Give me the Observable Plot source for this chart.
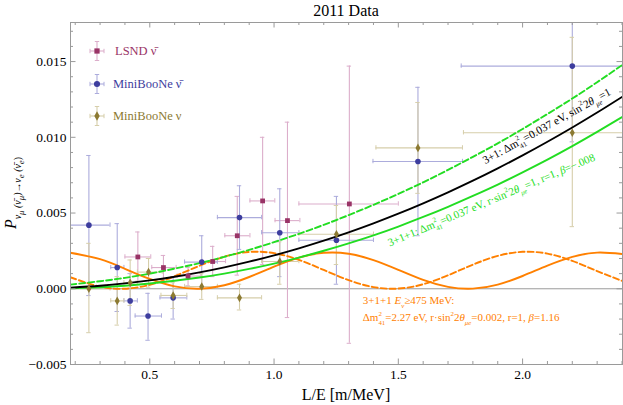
<!DOCTYPE html>
<html><head><meta charset="utf-8">
<script src="https://cdn.jsdelivr.net/npm/d3@7"></script>
<script src="https://cdn.jsdelivr.net/npm/@observablehq/plot@0.6"></script>
<style>html,body{margin:0;padding:0;background:#fff} svg{display:block}</style>
</head><body><div id="chart"></div>
<script>
// ---- curves ----
const LE = [0.18,0.3,0.4,0.5,0.6,0.7,0.8,0.9,1.0,1.1,1.2,1.3,1.4,1.5,1.6,1.7,1.8,1.9,2.0,2.1,2.2,2.3,2.4];
const p31 = [0.0000715,0.000199,0.000353,0.000552,0.000795,0.001082,0.001413,0.001788,0.002206,0.002669,0.003176,0.003727,0.004322,0.00496,0.005642,0.006368,0.007137,0.00795,0.008806,0.009706,0.010649,0.011635,0.012665];
const p311Dashed = [0.00027,0.0005,0.00072,0.0010,0.00133,0.00169,0.00211,0.00257,0.00308,0.00363,0.00422,0.00486,0.00554,0.00626,0.00703,0.00785,0.00871,0.0096,0.01055,0.01154,0.01256,0.01364,0.01476];
const p311Solid = [0.00003,0.0001,0.0002,0.00035,0.00053,0.00074,0.001,0.00131,0.00166,0.00206,0.00251,0.003,0.00353,0.00411,0.00474,0.00541,0.00613,0.00688,0.00769,0.00853,0.00942,0.01036,0.01133];
const pOrangeSolid = [0.002375,0.001954,0.001321,0.00065,0.000158,0.000002,0.000233,0.000777,0.001457,0.002054,0.002375,0.002316,0.001896,0.001253,0.000587,0.000125,0.000008,0.000275,0.000843,0.001523,0.002101,0.002387,0.002291];
const pOrangeDashed = [0.00076,0.000144,0.0000046,0.00026,0.00083,0.00152,0.00212,0.00243,0.00235,0.00191,0.00124,0.00057,0.00011,0.0000126,0.0003,0.00089,0.00159,0.00217,0.00244,0.00232,0.00184,0.00117,0.00052];

// ---- LSND antineutrino ----
const lsndLE   = [0.452,0.555,0.654,0.753,0.852,0.954,1.054,1.303];
const lsndLElo = [0.400,0.508,0.610,0.712,0.802,0.903,1.004,1.100];
const lsndLEhi = [0.504,0.606,0.705,0.805,0.903,1.003,1.104,1.500];
const lsndP    = [0.0021,0.0014,0.00084,0.0018,0.0035,0.0058,0.0045,0.0056];
const lsndPlo  = [0.0005,0.0006,0.0002,0.0008,0.0009,0.0016,-0.0019,-0.0036];
const lsndPhi  = [0.00375,0.0022,0.0014,0.0028,0.0061,0.0100,0.0110,0.0147];

// ---- MiniBooNE antineutrino ----
const mbbLE   = [0.255,0.369,0.421,0.493,0.594,0.709,0.861,1.023,1.251,1.579,2.200];
const mbbLElo = [0.180,0.343,0.396,0.441,0.541,0.640,0.772,0.950,1.100,1.398,1.753];
const mbbLEhi = [0.340,0.396,0.450,0.547,0.649,0.772,0.950,1.100,1.400,1.758,2.450];
const mbbP    = [0.0042,0.0014,-0.0008,-0.0018,-0.0006,0.00176,0.0047,0.0037,0.0032,0.0084,0.0147];
const mbbPlo  = [-0.00045,-0.0015,-0.0026,-0.0034,-0.0020,0.0001,0.0026,0.0008,0.0003,0.0035,0.0097];
const mbbPhi  = [0.0088,0.0043,0.0010,-0.0003,0.0008,0.0035,0.0068,0.0066,0.0061,0.0133,0.0197];

// ---- MiniBooNE neutrino ----
const mbnLE   = [0.255,0.369,0.421,0.495,0.594,0.709,0.861,1.023,1.251,1.579,2.200];
const mbnLElo = [0.180,0.343,0.396,0.450,0.545,0.640,0.772,0.950,1.100,1.410,1.762];
const mbnLEhi = [0.340,0.396,0.450,0.550,0.649,0.772,0.950,1.100,1.400,1.758,2.450];
const mbnP    = [0.0000,-0.0008,0.0004,0.0011,-0.00044,0.00015,-0.0006,0.0018,0.0036,0.0093,0.0103];
const mbnPlo  = [-0.0029,-0.0024,-0.0011,0.0001,-0.0013,-0.0007,-0.0014,0.0003,0.0016,0.0063,0.0041];
const mbnPhi  = [0.0030,0.0008,0.0019,0.0020,0.0004,0.0010,0.0003,0.0031,0.0055,0.0123,0.0166];

// ---- axes ----
const xMajor = [0.5,1.0,1.5,2.0];
const xMinor = [0.2,0.3,0.4,0.6,0.7,0.8,0.9,1.1,1.2,1.3,1.4,1.6,1.7,1.8,1.9,2.1,2.2,2.3,2.4];
const yMajor = [-0.005,0,0.005,0.010,0.015];
const yMinor = [-0.004,-0.003,-0.002,-0.001,0.001,0.002,0.003,0.004,0.006,0.007,0.008,0.009,0.011,0.012,0.013,0.014,0.016,0.017];

const W = 623, H = 405, mL = 70, mR = 1, mT = 22, mB = 41;
const innerW = W - mL - mR, innerH = H - mT - mB;
const xDomain = [0.181, 2.402], yDomain = [-0.005, 0.01758];
const capX = 2.2 * (xDomain[1] - xDomain[0]) / innerW;
const capY = 2.2 * (yDomain[1] - yDomain[0]) / innerH;
const FONT = "'Liberation Serif', 'Times New Roman', serif";

const curveRows = (arr) => LE.map((x, i) => ({x, y: arr[i]}));
const setRows = (xs, xlo, xhi, ys, ylo, yhi) => xs.map((x, i) => ({x, x1: xlo[i], x2: xhi[i], y: ys[i], y1: ylo[i], y2: yhi[i]}));

const sets = [
  {rows: setRows(lsndLE, lsndLElo, lsndLEhi, lsndP, lsndPlo, lsndPhi), color: "#993366", light: "#dcaecb", symbol: "square", r: 2.7},
  {rows: setRows(mbbLE, mbbLElo, mbbLEhi, mbbP, mbbPlo, mbbPhi), color: "#3d3d9e", light: "#acacdc", symbol: "circle", r: 2.8},
  {rows: setRows(mbnLE, mbnLElo, mbnLEhi, mbnP, mbnPlo, mbnPhi), color: "#8c7a32", light: "#d6ceaa", symbol: "diamond", r: 2.6}
];

const barMarks = sets.flatMap(s => [
  Plot.ruleY(s.rows, {y: "y", x1: "x1", x2: "x2", stroke: s.light, strokeWidth: 1.1, clip: true}),
  Plot.ruleX(s.rows, {x: "x", y1: "y1", y2: "y2", stroke: s.light, strokeWidth: 1.1, clip: true}),
  Plot.ruleX(s.rows, {x: "x1", y1: d => d.y - capY, y2: d => d.y + capY, stroke: s.light, clip: true}),
  Plot.ruleX(s.rows, {x: "x2", y1: d => d.y - capY, y2: d => d.y + capY, stroke: s.light, clip: true}),
  Plot.ruleY(s.rows, {y: "y1", x1: d => d.x - capX, x2: d => d.x + capX, stroke: s.light, clip: true}),
  Plot.ruleY(s.rows, {y: "y2", x1: d => d.x - capX, x2: d => d.x + capX, stroke: s.light, clip: true})
]);
const dotMarks = sets.map(s => Plot.dot(s.rows, {x: "x", y: "y", fill: s.color, symbol: s.symbol, r: s.r, clip: true}));

const GREEN = "#22dd22", ORANGE = "#ff8000";

const plot = Plot.plot({
  width: W, height: H, marginLeft: mL, marginRight: mR, marginTop: mT, marginBottom: mB,
  style: {fontFamily: FONT, fontSize: "13.5px", background: "#fff", color: "#000"},
  x: {domain: xDomain},
  y: {domain: yDomain},
  marks: [
    Plot.ruleY([0], {stroke: "#9a9a9a", strokeWidth: 1}),
    ...barMarks,
    Plot.line(curveRows(pOrangeSolid), {x: "x", y: "y", stroke: ORANGE, strokeWidth: 1.9, curve: "natural", clip: true}),
    Plot.line(curveRows(pOrangeDashed), {x: "x", y: "y", stroke: ORANGE, strokeWidth: 1.9, strokeDasharray: "6,3", curve: "natural", clip: true}),
    Plot.line(curveRows(p311Solid), {x: "x", y: "y", stroke: GREEN, strokeWidth: 1.9, curve: "natural", clip: true}),
    Plot.line(curveRows(p311Dashed), {x: "x", y: "y", stroke: GREEN, strokeWidth: 1.9, strokeDasharray: "6,3", curve: "natural", clip: true}),
    Plot.line(curveRows(p31), {x: "x", y: "y", stroke: "#000", strokeWidth: 1.9, curve: "natural", clip: true}),
    ...dotMarks,
    Plot.frame({stroke: "#9a9a9a"}),
    // inward ticks, all four sides
    Plot.ruleX(xMajor, {x: d => d, insetTop: innerH - 5.5, stroke: "#9a9a9a"}),
    Plot.ruleX(xMinor, {x: d => d, insetTop: innerH - 3, stroke: "#9a9a9a"}),
    Plot.ruleX(xMajor, {x: d => d, insetBottom: innerH - 5.5, stroke: "#9a9a9a"}),
    Plot.ruleX(xMinor, {x: d => d, insetBottom: innerH - 3, stroke: "#9a9a9a"}),
    Plot.ruleY(yMajor, {y: d => d, insetRight: innerW - 5.5, stroke: "#9a9a9a"}),
    Plot.ruleY(yMinor, {y: d => d, insetRight: innerW - 3, stroke: "#9a9a9a"}),
    Plot.ruleY(yMajor, {y: d => d, insetLeft: innerW - 5.5, stroke: "#9a9a9a"}),
    Plot.ruleY(yMinor, {y: d => d, insetLeft: innerW - 3, stroke: "#9a9a9a"}),
    Plot.axisX(xMajor, {tickSize: 0, tickPadding: 5, tickFormat: d3.format(".1f"), label: null, fontSize: 13.5}),
    Plot.axisY(yMajor, {tickSize: 0, tickPadding: 4, tickFormat: d3.format(".3f"), label: null, fontSize: 13.5})
  ]
});
document.getElementById("chart").appendChild(plot);

const svg = d3.select(plot);
const sx = plot.scale("x"), sy = plot.scale("y");
const X = v => sx.apply(v), Y = v => sy.apply(v);

// rich text helper: parts = [text, mode, italic, dxEm]
function rich(x, y, parts, {size = 12, fill = "#000", rotate = 0, anchor = "start"} = {}) {
  const t = svg.append("text")
    .attr("transform", `translate(${x},${y}) rotate(${rotate})`)
    .attr("font-family", FONT).attr("font-size", size).attr("fill", fill)
    .attr("text-anchor", anchor);
  let cur = 0;
  for (const [s, mode = "n", italic = false, dxEm = 0] of parts) {
    const off = mode === "sup" ? -0.48 * size : mode === "sub" ? 0.34 * size : mode === "subsub" ? 0.52 * size : 0;
    const fs = mode === "n" ? size : mode === "subsub" ? size * 0.55 : size * 0.62;
    const ts = t.append("tspan").attr("dy", off - cur).attr("font-size", fs).text(s);
    if (italic) ts.attr("font-style", "italic");
    if (dxEm) ts.attr("dx", dxEm * size);
    cur = off;
  }
  return t;
}

// title
svg.append("text").attr("x", (mL + W - mR) / 2).attr("y", 15.5).attr("text-anchor", "middle")
  .attr("font-family", FONT).attr("font-size", 16).text("2011 Data");
// x label
svg.append("text").attr("x", (mL + W - mR) / 2).attr("y", 400).attr("text-anchor", "middle")
  .attr("font-family", FONT).attr("font-size", 16).text("L/E [m/MeV]");
// y label
rich(16, mT + innerH / 2, [
  ["P", "n", true], ["ν", "sub", true], ["μ", "subsub", true], [" (ν\u0304", "sub", true], ["μ", "subsub", true],
  [")→ν", "sub", true], ["e", "subsub", true], [" (ν\u0304", "sub", true], ["e", "subsub", true], [")", "sub"]
], {size: 16, rotate: -90, anchor: "middle"});

// curve annotations
const dm = ["Δm", "n"];
rich(X(1.852), Y(0.00818), [
  ["3+1: "], dm, ["2", "sup"], ["41", "sub", false, -0.31], ["=0.037 eV, sin"], ["2", "sup"], ["2", "n"], ["θ", "n", true],
  ["μe", "sub", true], ["=1"]
], {size: 11.3, rotate: -29});

rich(X(1.468), Y(0.00275), [
  ["3+1+1: "], dm, ["2", "sup"], ["41", "sub", false, -0.31], ["=0.037 eV, r·sin"], ["2", "sup"], ["2"], ["θ", "n", true],
  ["μe", "sub", true], ["=1, r=1, "], ["β", "n", true], ["=−.008"]
], {size: 11, rotate: -22.8, fill: GREEN});

rich(X(1.359), Y(-0.00104), [
  ["3+1+1 "], ["E", "n", true], ["ν", "sub", true], ["≥475 MeV:"]
], {size: 11, fill: ORANGE});
rich(X(1.359), Y(-0.00218), [
  dm, ["2", "sup"], ["41", "sub", false, -0.31], ["=2.27 eV, r·sin"], ["2", "sup"], ["2"], ["θ", "n", true],
  ["μe", "sub", true], ["=0.002, r=1, "], ["β", "n", true], ["=1.16"]
], {size: 11, fill: ORANGE});

// legend
const legend = [
  {label: "LSND ν\u0304", set: sets[0], y: 51, tx: 115},
  {label: "MiniBooNe ν\u0304", set: sets[1], y: 84, tx: 113},
  {label: "MiniBooNe ν", set: sets[2], y: 116, tx: 113}
];
const symMap = {square: d3.symbolSquare, circle: d3.symbolCircle, diamond: d3.symbolDiamond};
for (const e of legend) {
  const g = svg.append("g").attr("transform", `translate(97,${e.y})`);
  g.append("line").attr("x1", -7).attr("x2", 7).attr("stroke", e.set.light).attr("stroke-width", 1.1);
  g.append("line").attr("y1", -9.5).attr("y2", 9.5).attr("stroke", e.set.light).attr("stroke-width", 1.1);
  for (const v of [-7, 7]) g.append("line").attr("x1", v).attr("x2", v).attr("y1", -2.2).attr("y2", 2.2).attr("stroke", e.set.light);
  for (const v of [-9.5, 9.5]) g.append("line").attr("y1", v).attr("y2", v).attr("x1", -2.2).attr("x2", 2.2).attr("stroke", e.set.light);
  g.append("path").attr("d", d3.symbol(symMap[e.set.symbol], Math.PI * e.set.r * e.set.r * 1.2)()).attr("fill", e.set.color);
  svg.append("text").attr("x", e.tx).attr("y", e.y + 4.3).attr("text-anchor", "start")
    .attr("font-family", FONT).attr("font-size", 12.5)
    .attr("fill", e.set.color).text(e.label);
}
</script>
</body></html>
